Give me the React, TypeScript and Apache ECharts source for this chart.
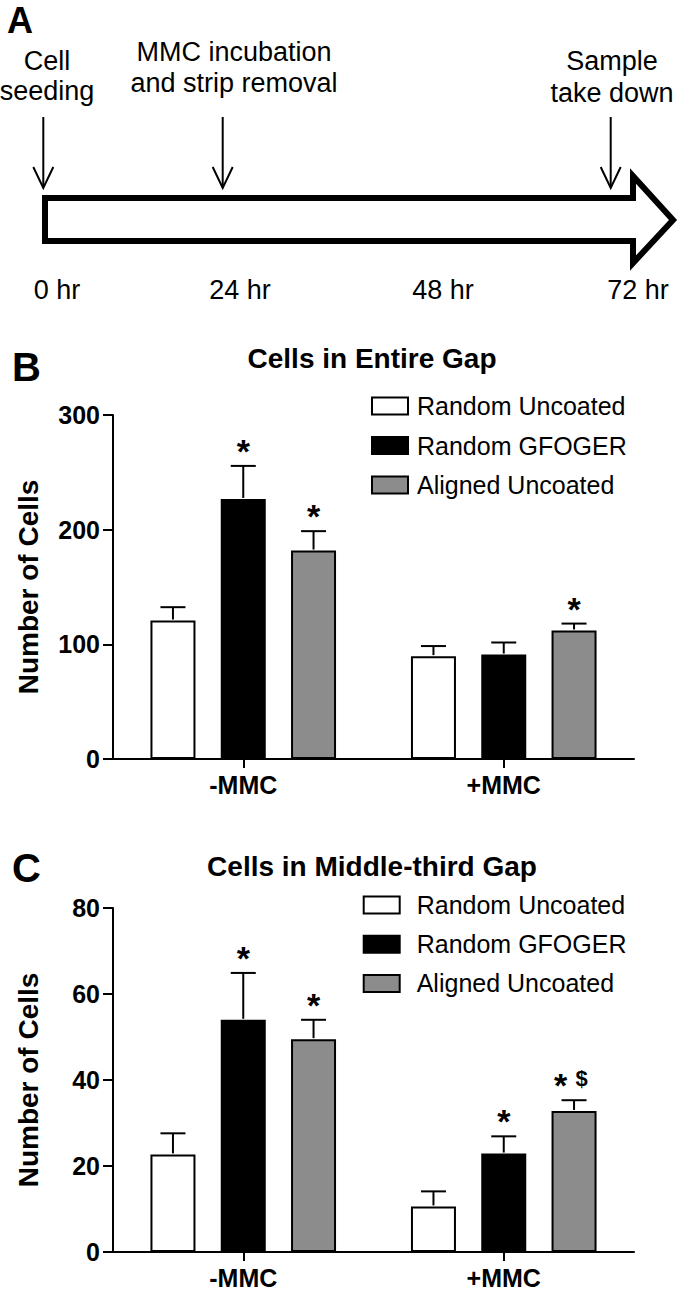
import React, { useEffect, useRef } from "react";
import * as echarts from "echarts";

const FONT = "'Liberation Sans', Arial, Helvetica, sans-serif";

// ---------- data ----------
const groupLabels = ["-MMC", "+MMC"];
const seriesNames = ["Random Uncoated", "Random GFOGER", "Aligned Uncoated"];
const barColors = ["#ffffff", "#000000", "#8c8c8c"];

// Panel B: Cells in Entire Gap
const entireTitle = "Cells in Entire Gap";
const entireAxisMax = 300;
const entireAxisStep = 100;
const entireRandomUncoated = [120.8, 89.7];
const entireRandomGfoger = [226.8, 91.1];
const entireAlignedUncoated = [181.8, 112.1];
const entireRandomUncoatedSem = [11.6, 8.8];
const entireRandomGfogerSem = [28.8, 10.5];
const entireAlignedUncoatedSem = [16.9, 6.0];
const entireRandomUncoatedMarks = ["", ""];
const entireRandomGfogerMarks = ["*", ""];
const entireAlignedUncoatedMarks = ["*", "*"];

// Panel C: Cells in Middle-third Gap
const middleTitle = "Cells in Middle-third Gap";
const middleAxisMax = 80;
const middleAxisStep = 20;
const middleRandomUncoated = [22.7, 10.6];
const middleRandomGfoger = [54.0, 22.9];
const middleAlignedUncoated = [49.5, 32.8];
const middleRandomUncoatedSem = [4.9, 3.5];
const middleRandomGfogerSem = [10.9, 4.0];
const middleAlignedUncoatedSem = [4.5, 2.5];
const middleRandomUncoatedMarks = ["", ""];
const middleRandomGfogerMarks = ["*", "*"];
const middleAlignedUncoatedMarks = ["*", "* $"];

const yAxisName = "Number of Cells";

// Panel A: timeline
const timeLabels = ["0 hr", "24 hr", "48 hr", "72 hr"];
const eventLabels = [
  ["Cell", "seeding"],
  ["MMC incubation", "and strip removal"],
  ["Sample", "take down"],
];

// ---------- layout ----------
const BAR_W = 45;
const BAR_BORDER = 2;
const BAR_GAP = 0.562;
const BAR_STEP = BAR_W * (1 + BAR_GAP);
const CAP = 25;

const timeLabelX = [57, 240, 443, 638];
const timeLabelY = 290;
const eventX = [47, 234, 612];
const eventLineY = [
  [61, 91],
  [52, 83],
  [61, 93],
];
const eventArrowX = [43.3, 222.7, 610.7];

function txt(text: string, x: number, y: number, size: number, bold: boolean, align = "center") {
  return {
    type: "text",
    x,
    y,
    silent: true,
    style: {
      text,
      fill: "#000",
      fontSize: size,
      fontWeight: bold ? "bold" : "normal",
      fontFamily: FONT,
      align,
      verticalAlign: "middle",
      textAlign: align,
      textVerticalAlign: "middle",
    },
  };
}

function barSeries(idx: number, slot: number, values: number[]) {
  return {
    type: "bar",
    name: seriesNames[slot],
    xAxisIndex: idx,
    yAxisIndex: idx,
    data: values,
    barWidth: BAR_W,
    barGap: `${BAR_GAP * 100}%`,
    silent: true,
    itemStyle: { color: barColors[slot], borderColor: "#000", borderWidth: BAR_BORDER },
  };
}

function errorSeries(idx: number, slot: number, means: number[], sems: number[], marks: string[]) {
  const data = means.map((m, i) => [i, m, m + sems[i]]);
  return {
    type: "custom",
    xAxisIndex: idx,
    yAxisIndex: idx,
    data,
    z: 5,
    silent: true,
    renderItem: (params: any, api: any) => {
      const i = params.dataIndex;
      const ci = api.value(0);
      const base = api.coord([ci, api.value(1)]);
      const top = api.coord([ci, api.value(2)]);
      const x = base[0] + (slot - 1) * BAR_STEP;
      const children: any[] = [
        {
          type: "line",
          shape: { x1: x, y1: base[1] - BAR_BORDER / 2, x2: x, y2: top[1] },
          style: { stroke: "#000", lineWidth: 2 },
        },
        {
          type: "line",
          shape: { x1: x - CAP / 2, y1: top[1], x2: x + CAP / 2, y2: top[1] },
          style: { stroke: "#000", lineWidth: 2 },
        },
      ];
      const tokens = marks[i] ? marks[i].split(" ") : [];
      tokens.forEach((t, k) => {
        const tx = x + (k - (tokens.length - 1) / 2) * 21 - (tokens.length > 1 ? 3 : 0);
        const star = t === "*";
        children.push({
          type: "text",
          x: tx,
          y: top[1] - 22 + (star ? 7 : 0),
          style: {
            text: t,
            fill: "#000",
            fontSize: star ? 34 : 22,
            fontWeight: "bold",
            fontFamily: FONT,
            align: "center",
            verticalAlign: "middle",
            textAlign: "center",
            textVerticalAlign: "middle",
          },
        });
      });
      return { type: "group", children };
    },
  };
}

function xAxisOf(idx: number) {
  return {
    type: "category",
    gridIndex: idx,
    data: groupLabels,
    axisLine: { show: true, lineStyle: { color: "#000", width: 2 } },
    axisTick: { show: true, alignWithLabel: true, length: 9, lineStyle: { color: "#000", width: 2 } },
    axisLabel: { color: "#000", fontSize: 25, fontWeight: "bold", fontFamily: FONT, margin: 13 },
    splitLine: { show: false },
  };
}

function yAxisOf(idx: number, max: number, step: number) {
  return {
    type: "value",
    gridIndex: idx,
    min: 0,
    max,
    interval: step,
    name: yAxisName,
    nameLocation: "middle",
    nameRotate: 90,
    nameGap: 71,
    nameTextStyle: { color: "#000", fontSize: 28, fontWeight: "bold", fontFamily: FONT },
    axisLine: { show: true, lineStyle: { color: "#000", width: 2 } },
    axisTick: { show: true, length: 10, lineStyle: { color: "#000", width: 2 } },
    axisLabel: { color: "#000", fontSize: 25, fontWeight: "bold", fontFamily: FONT, margin: 13 },
    splitLine: { show: false },
  };
}

function legendOf(left: number, top: number, gap: number, pad: number) {
  return {
    orient: "vertical",
    left,
    top,
    itemWidth: 36,
    itemHeight: 17,
    itemGap: gap,
    icon: "rect",
    selectedMode: false,
    data: seriesNames,
    itemStyle: { borderColor: "#000", borderWidth: 2 },
    textStyle: { color: "#000", fontSize: 25, fontFamily: FONT, padding: [0, 0, 0, pad] },
  };
}

function panelA() {
  const els: any[] = [];
  els.push(txt("A", 7, 20, 36, true, "left"));
  els.push({
    type: "polygon",
    silent: true,
    shape: {
      points: [
        [45, 198],
        [633, 198],
        [633, 176],
        [673, 220],
        [633, 263],
        [633, 241],
        [45, 241],
      ],
    },
    style: { fill: "#fff", stroke: "#000", lineWidth: 6, lineJoin: "miter" },
  });
  eventArrowX.forEach((ax) => {
    els.push({
      type: "line",
      silent: true,
      shape: { x1: ax, y1: 117, x2: ax, y2: 187 },
      style: { stroke: "#000", lineWidth: 2 },
    });
    els.push({
      type: "polyline",
      silent: true,
      shape: { points: [[ax - 10, 167], [ax, 188], [ax + 10, 167]] },
      style: { stroke: "#000", lineWidth: 2, fill: null },
    });
  });
  eventLabels.forEach((lines, i) => {
    lines.forEach((l, j) => els.push(txt(l, eventX[i], eventLineY[i][j], 27, false)));
  });
  timeLabels.forEach((t, i) => els.push(txt(t, timeLabelX[i], timeLabelY, 27, false)));
  return els;
}

export default function App() {
  const ref = useRef<HTMLDivElement>(null);
  useEffect(() => {
    document.body.style.margin = "0";
    if (!ref.current) return;
    const chart = echarts.init(ref.current, null, { renderer: "svg" });
    const option: any = {
      animation: false,
      backgroundColor: "#fff",
      textStyle: { fontFamily: FONT },
      grid: [
        { left: 113, top: 415, width: 521, height: 344, containLabel: false },
        { left: 113, top: 908, width: 521, height: 344, containLabel: false },
      ],
      xAxis: [xAxisOf(0), xAxisOf(1)],
      yAxis: [yAxisOf(0, entireAxisMax, entireAxisStep), yAxisOf(1, middleAxisMax, middleAxisStep)],
      legend: [legendOf(366, 388.5, 14.5, 4), legendOf(357.7, 887.5, 14.2, 12)],
      series: [
        barSeries(0, 0, entireRandomUncoated),
        barSeries(0, 1, entireRandomGfoger),
        barSeries(0, 2, entireAlignedUncoated),
        errorSeries(0, 0, entireRandomUncoated, entireRandomUncoatedSem, entireRandomUncoatedMarks),
        errorSeries(0, 1, entireRandomGfoger, entireRandomGfogerSem, entireRandomGfogerMarks),
        errorSeries(0, 2, entireAlignedUncoated, entireAlignedUncoatedSem, entireAlignedUncoatedMarks),
        barSeries(1, 0, middleRandomUncoated),
        barSeries(1, 1, middleRandomGfoger),
        barSeries(1, 2, middleAlignedUncoated),
        errorSeries(1, 0, middleRandomUncoated, middleRandomUncoatedSem, middleRandomUncoatedMarks),
        errorSeries(1, 1, middleRandomGfoger, middleRandomGfogerSem, middleRandomGfogerMarks),
        errorSeries(1, 2, middleAlignedUncoated, middleAlignedUncoatedSem, middleAlignedUncoatedMarks),
      ],
      graphic: [
        ...panelA(),
        txt("B", 12, 367, 40, true, "left"),
        txt(entireTitle, 372, 358, 28, true),
        txt("C", 12, 868, 40, true, "left"),
        txt(middleTitle, 372, 866, 28, true),
      ],
    };
    chart.setOption(option);
    return () => chart.dispose();
  }, []);
  return <div ref={ref} style={{ width: 680, height: 1290 }} />;
}
